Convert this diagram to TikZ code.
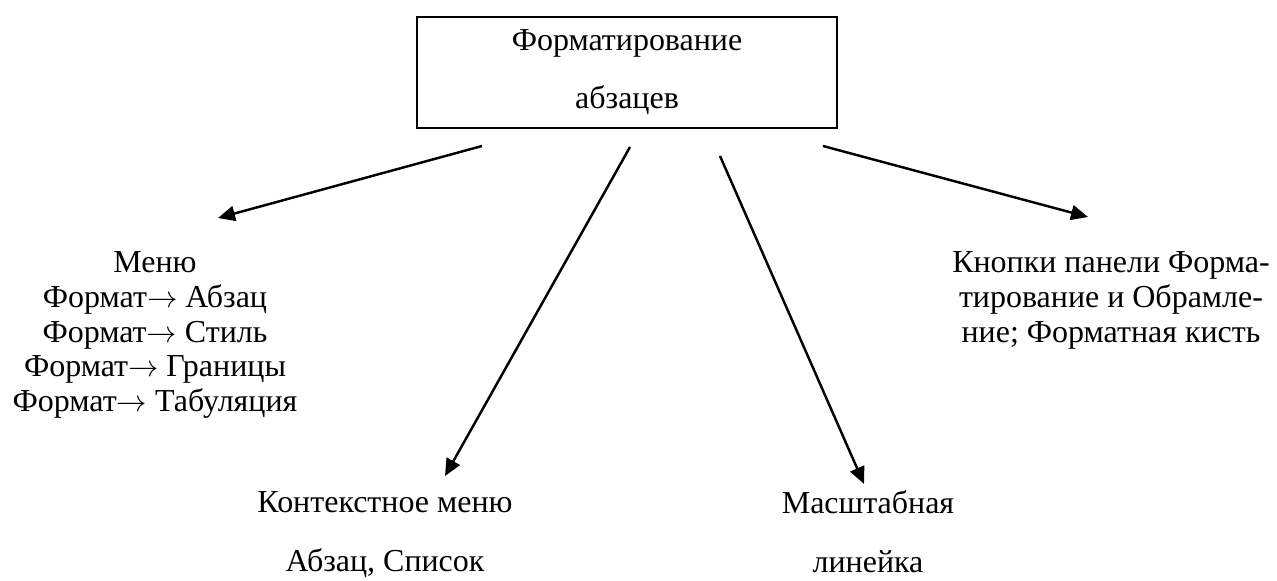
\documentclass[tikz,border=0pt]{standalone}
\usepackage{fontspec}
\setmainfont{Liberation Serif}
\usetikzlibrary{arrows.meta,positioning}
\newcommand{\fmtto}{\ensuremath{\rightarrow}}
\tikzset{
    fmt title/.style={
        draw=black,
        line width=1.2pt,
        minimum width=8.4cm,
        minimum height=2.22cm,
        align=center,
        font=\fontsize{18.2pt}{33pt}\selectfont,
        inner sep=0pt
    },
    fmt list/.style={align=center, inner sep=0pt, font=\fontsize{18.2pt}{19.9pt}\selectfont},
    fmt wide/.style={align=center, inner sep=0pt, font=\fontsize{18.2pt}{33.5pt}\selectfont},
    fmt arrow/.style={-{Triangle[length=0.34cm,width=0.3cm]}, line width=1.4pt, draw=black}
}
\begin{document}
\begin{tikzpicture}[x=0.02cm, y=-0.02cm]
\useasboundingbox (0,0) rectangle (1277,581);
% top box
\node[fmt title] (root) at (627,72.5) {Форматирование\\абзацев};

% branches
\node[fmt list] (menu) at (155,335) {Меню\\Формат\fmtto{} Абзац\\Формат\fmtto{} Стиль\\Формат\fmtto{} Границы\\Формат\fmtto{} Табуляция};
\node[fmt wide] (ctx) at (385,535) {Контекстное меню\\Абзац, Список};
\node[fmt wide] (ruler) at (868,532) {Масштабная\\линейка};
\node[fmt list] (btns) at (1111,300) {Кнопки панели Форма-\\тирование и Обрамле-\\ние; Форматная кисть};

% arrow ends
\coordinate (s1) at (482,146);  \coordinate (e1) at (218,218);
\coordinate (s2) at (630,147);  \coordinate (e2) at (445,476);
\coordinate (s3) at (720,156);  \coordinate (e3) at (864,484);
\coordinate (s4) at (823,146);  \coordinate (e4) at (1088,217);
\draw[fmt arrow] (s1) -- (e1);
\draw[fmt arrow] (s2) -- (e2);
\draw[fmt arrow] (s3) -- (e3);
\draw[fmt arrow] (s4) -- (e4);
\end{tikzpicture}
\end{document}
